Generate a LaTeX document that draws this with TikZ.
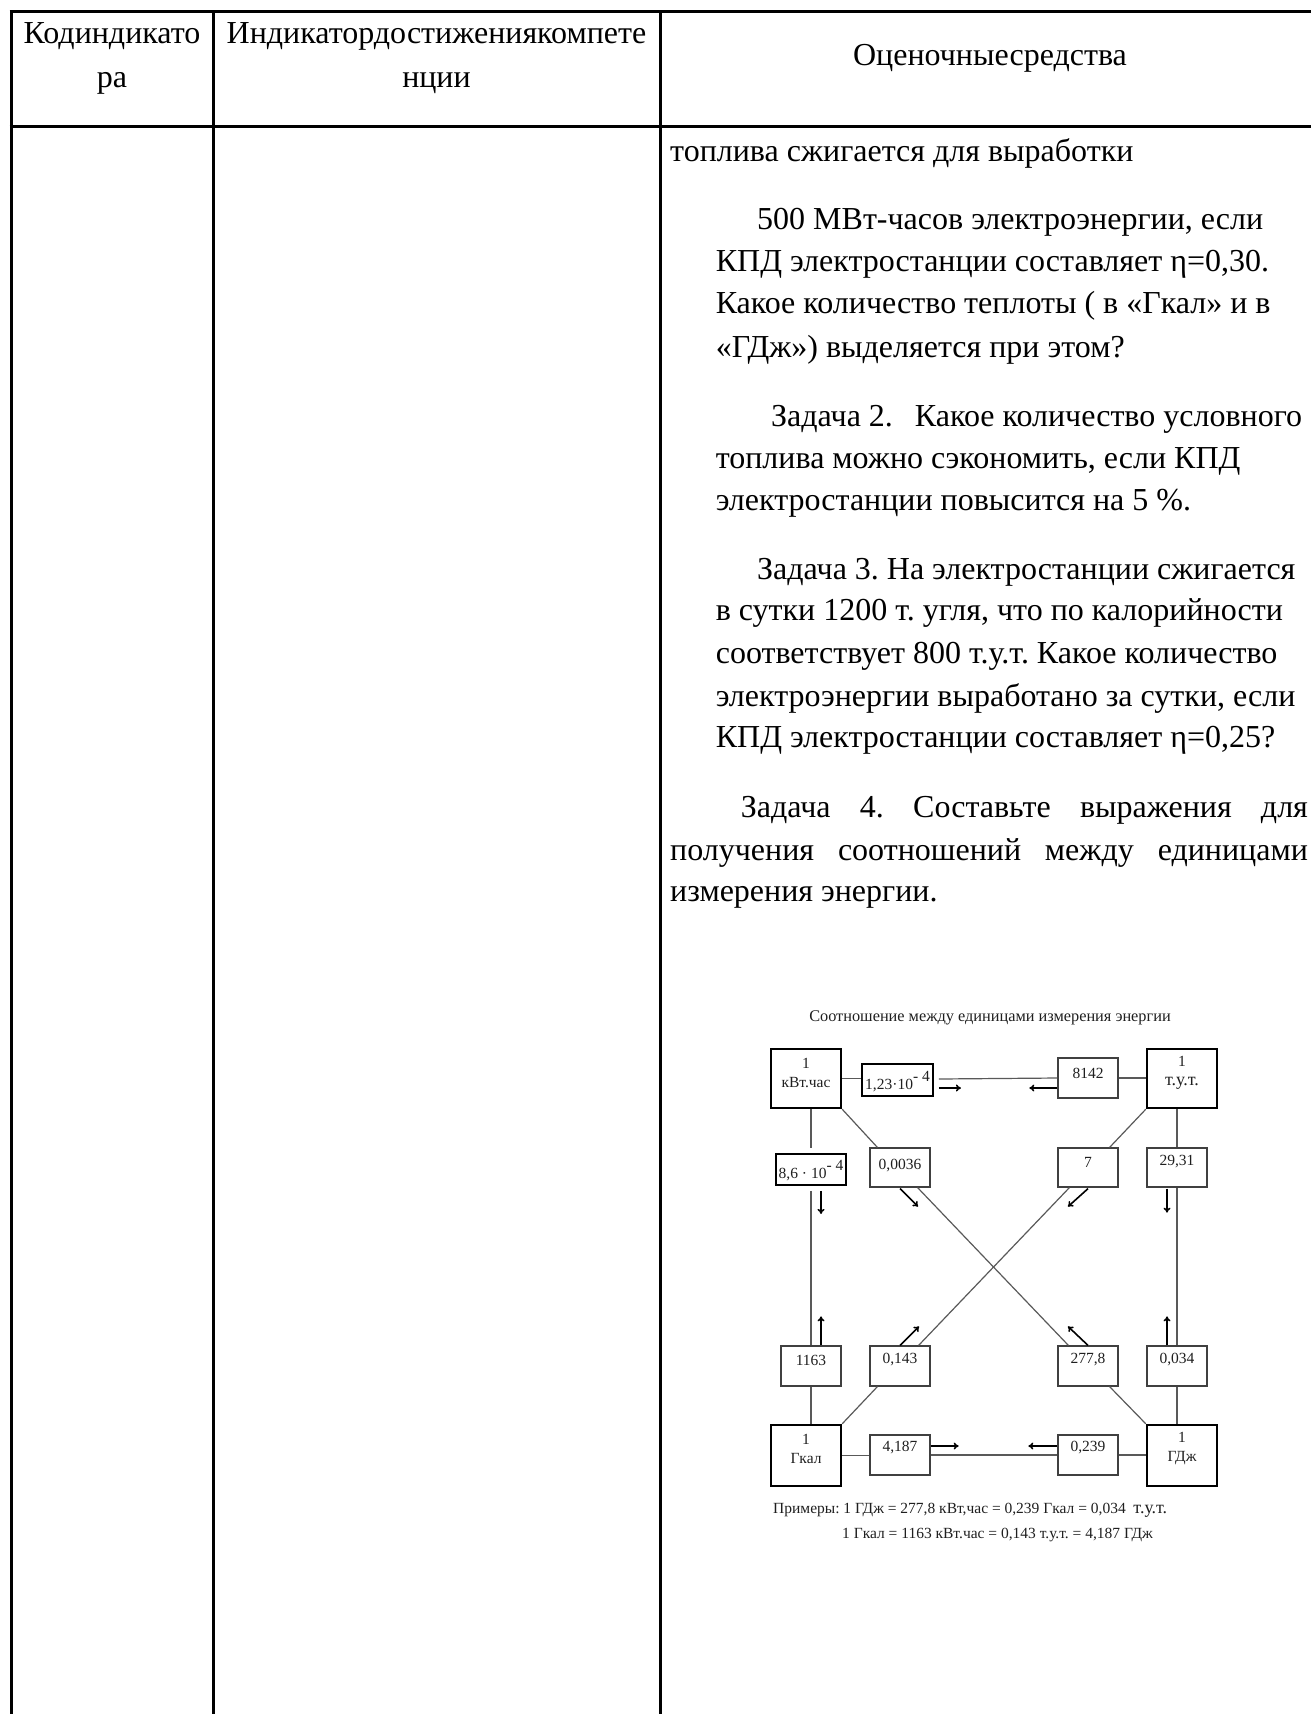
\documentclass[tikz,border=0pt]{standalone}
\usepackage{fontspec}
\setmainfont{Liberation Serif}
\usetikzlibrary{calc,arrows.meta}
\begin{document}
\frenchspacing
\begin{tikzpicture}[x=1pt,y=-1pt,
  tline/.style={line width=3pt,black},
  body/.style={anchor=mid west,inner sep=0pt,font=\fontsize{32}{38}\selectfont},
  head/.style={anchor=mid,inner sep=0pt,font=\fontsize{32}{38}\selectfont},
  bigbox/.style={draw=black,line width=2.4pt,minimum width=70pt,minimum height=59pt,inner sep=0pt},
  midbox/.style={draw=black,line width=1.8pt,minimum width=70pt,minimum height=31pt,inner sep=0pt},
  smallbox/.style={draw=black!75,line width=1.2pt,minimum width=60pt,minimum height=39pt,inner sep=0pt},
  conn/.style={draw=black!65,line width=1.2pt},
  arr/.style={draw=black,line width=1.6pt,-{To[length=5pt,width=7pt]}},
  dtext/.style={inner sep=0pt,text=black!88,font=\fontsize{15.5}{19}\selectfont,align=center},
  note/.style={anchor=mid west,inner sep=0pt,text=black!88,font=\fontsize{15.5}{19}\selectfont}
]
\useasboundingbox (0,0) rectangle (1311,1714);
\clip (0,0) rectangle (1311,1714);
% table
\coordinate (tl) at (11,11);
\coordinate (c1) at (213,11);
\coordinate (c2) at (660,11);
\coordinate (tr) at (1330,11);
\coordinate (hl) at (11,126);
\coordinate (hr) at (1330,126);
\draw[tline] ([xshift=-1.5pt]tl) -- (tr);
\draw[tline] ([xshift=-1.5pt]hl) -- (hr);
\draw[tline] (tl) -- (11,1720);
\draw[tline] (c1) -- (213,1720);
\draw[tline] (c2) -- (660,1720);
% header
\node[head] (h1a) at (112,41.5) {Кодиндикато};
\node[head] (h1b) at (112,85) {ра};
\node[head] (h2a) at (436.5,41.5) {Индикатордостижениякомпете};
\node[head] (h2b) at (436.5,85) {нции};
\node[head] (h3) at (990,63.5) {Оценочныесредства};
% body text
\node[body] (l1) at (670,159) {топлива сжигается для выработки};
\node[body] (l2) at (757,227.5) {500 МВт-часов электроэнергии, если};
\node[body] (l3) at (715.6,269) {КПД электростанции составляет η=0,30.};
\node[body] (l4) at (715.6,311.6) {Какое количество теплоты ( в «Гкал» и в};
\node[body] (l5) at (715.6,355.3) {«ГДж») выделяется при этом?};
\node[body] (l6) at (771,424) {Задача 2.\hspace{14pt} Какое количество условного};
\node[body] (l7) at (715.6,465.7) {топлива можно сэкономить, если КПД};
\node[body] (l8) at (715.6,508.3) {электростанции повысится на 5 \%.};
\node[body] (l9) at (757,577) {Задача 3. На электростанции сжигается};
\node[body] (l10) at (715.6,618.6) {в сутки 1200 т. угля, что по калорийности};
\node[body] (l11) at (715.6,661.2) {соответствует 800 т.у.т. Какое количество};
\node[body] (l12) at (715.6,703.8) {электроэнергии выработано за сутки, если};
\node[body] (l13) at (715.6,745.3) {КПД электростанции составляет η=0,25?};
\node[body] (l14) at (740.7,815.3) {\makebox[567pt][s]{Задача 4. Составьте выражения для}};
\node[body] (l15) at (670,858) {\makebox[637.7pt][s]{получения соотношений между единицами}};
\node[body] (l16) at (670,899.4) {измерения энергии.};
% diagram title
\node[dtext,font=\fontsize{16.3}{19}\selectfont] (title) at (990,1018) {Соотношение между единицами измерения энергии};
% boxes
\node[bigbox] (kwh) at (806,1078.5) {};
\node[bigbox] (tut) at (1182,1078.5) {};
\node[bigbox,minimum height=61pt] (gkal) at (806,1455.5) {};
\node[bigbox,minimum height=61pt] (gdj) at (1182,1455.5) {};
\node[midbox,minimum width=71pt,minimum height=32pt] (b123) at (897.5,1080) {};
\node[smallbox,minimum height=40pt] (b8142) at (1088,1078) {};
\node[midbox] (b86) at (811,1169.5) {};
\node[smallbox] (b0036) at (900,1167.5) {};
\node[smallbox] (b7) at (1088,1167.5) {};
\node[smallbox] (b2931) at (1177,1167.5) {};
\node[smallbox,minimum height=40pt] (b1163) at (811,1366) {};
\node[smallbox,minimum height=40pt] (b0143) at (900,1366) {};
\node[smallbox,minimum height=40pt] (b2778) at (1088,1366) {};
\node[smallbox,minimum height=40pt] (b0034) at (1177,1366) {};
\node[smallbox,minimum height=40pt] (b4187) at (900,1455) {};
\node[smallbox,minimum height=40pt] (b0239) at (1088,1455) {};
% box texts
\node[dtext] (kwhT) at (806,1072.5) {1\\кВт.час};
\node[dtext] (tutT) at (1182,1072.5) {1\\{\fontsize{18}{19}\selectfont т.у.т.}};
\node[dtext] (gkalT) at (806,1448.5) {1\\Гкал};
\node[dtext] (gdjT) at (1182,1448.5) {1\\ГДж};
\node[dtext] (t123) at (897.5,1082) {1,23·10\raisebox{8pt}{- 4}};
\node[dtext] (t8142) at (1088,1073) {8142};
\node[dtext] (t86) at (811,1171) {8,6 · 10\raisebox{8pt}{- 4}};
\node[dtext] (t0036) at (900,1166) {0,0036};
\node[dtext] (t7) at (1088,1162) {7};
\node[dtext] (t2931) at (1177,1162) {29,31};
\node[dtext] (t1163) at (811,1360) {1163};
\node[dtext] (t0143) at (900,1360) {0,143};
\node[dtext] (t2778) at (1088,1360) {277,8};
\node[dtext] (t0034) at (1177,1360) {0,034};
\node[dtext] (t4187) at (900,1448) {4,187};
\node[dtext] (t0239) at (1088,1448) {0,239};
% connectors: top
\draw[conn] (kwh.east) -- (kwh.east -| b123.west);
\draw[conn] ($(b123.east)+(5,-1)$) -- (b8142.west);
\draw[conn] (b8142.east) -- (b8142.east -| tut.west);
\draw[arr] ($(b123.east)+(5,8)$) -- +(22,0);
\draw[arr] ($(b8142.west)+(0,10)$) -- +(-28,0);
% left
\draw[conn] (kwh.south -| b86.north) -- ([yshift=5pt]b86.north);
\draw[conn] ([yshift=-5pt]b86.south) -- (b1163.north);
\draw[conn] (b1163.south) -- (b1163.south |- gkal.north);
\draw[arr] ($(b86.south)+(10,5)$) -- +(0,23);
\draw[arr] ($(b1163.north)+(10,0)$) -- +(0,-29);
% right
\draw[conn] (tut.south -| b2931.north) -- (b2931.north);
\draw[conn] (b2931.south) -- (b0034.north);
\draw[conn] (b0034.south) -- (b0034.south |- gdj.north);
\draw[arr] ($(b2931.south)+(-10,1)$) -- +(0,24);
\draw[arr] ($(b0034.north)+(-10,0)$) -- +(0,-29);
% bottom
\draw[conn] (gkal.east) -- (gkal.east -| b4187.west);
\draw[conn] (b4187.east) -- (b0239.west);
\draw[conn] (b0239.east) -- (b0239.east -| gdj.west);
\draw[arr] ($(b4187.east)+(0,-9)$) -- +(28,0);
\draw[arr] ($(b0239.west)+(0,-9)$) -- +(-29,0);
% diagonals
\draw[conn] (kwh.south east) -- ($(b0036.north west)+(8,0)$);
\draw[conn] ($(b0036.south east)+(-13,0)$) -- ($(b2778.north west)+(11,0)$);
\draw[conn] (tut.south west) -- ($(b7.north east)+(-9,0)$);
\draw[conn] ($(b7.south west)+(12,0)$) -- ($(b0143.north east)+(-12,0)$);
\draw[conn] ($(b0143.south west)+(8,0)$) -- (gkal.north east);
\draw[conn] ($(b2778.south east)+(-9,0)$) -- (gdj.north west);
\draw[arr] ($(b0036.south)+(0,1)$) -- +(18,18);
\draw[arr] ($(b7.south)+(0,1)$) -- +(-20,18);
\draw[arr] (b0143.north) -- +(19,-19);
\draw[arr] (b2778.north) -- +(-20,-19);
% examples
\node[note] (ex1) at (773,1511) {Примеры: 1 ГДж = 277,8 кВт,час = 0,239 Гкал = 0,034 \ {\fontsize{18}{19}\selectfont т.у.т.}};
\node[note] (ex2) at (842,1536) {1 Гкал = 1163 кВт.час = 0,143 т.у.т. = 4,187 ГДж};
\end{tikzpicture}
\end{document}
